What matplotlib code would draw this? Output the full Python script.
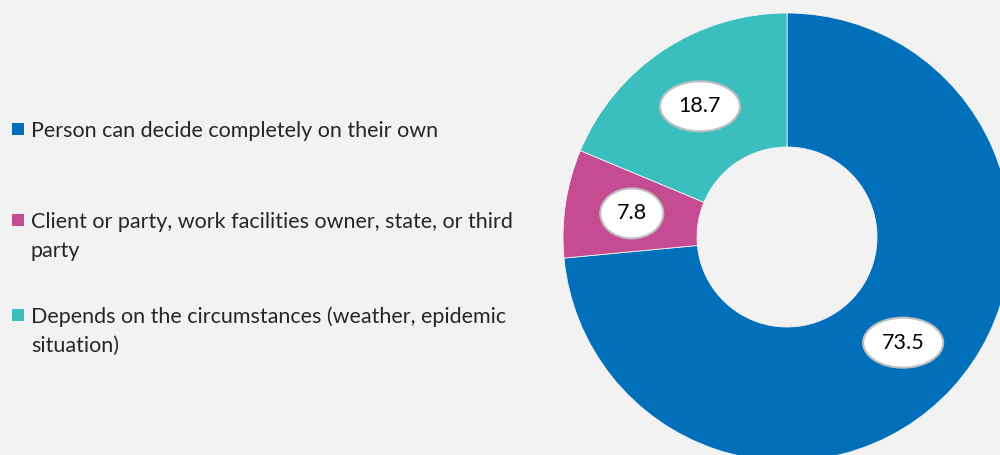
import matplotlib.pyplot as plt
import numpy as np
from matplotlib.patches import Ellipse, Rectangle

plt.rcParams['font.family'] = ['Lato', 'DejaVu Sans']

#data
categories = ['Person can decide completely on their own',
              'Client or party, work facilities owner, state, or third\nparty',
              'Depends on the circumstances (weather, epidemic\nsituation)']
values = [73.5, 7.8, 18.7]
colors = ['#016FB9', '#C54C93', '#3BBFBE']
bg = '#F2F2F2'

W, H = 1000, 455
fig = plt.figure(figsize=(W/100, H/100), dpi=100, facecolor=bg)
ax = fig.add_axes([0, 0, 1, 1])
ax.set_facecolor(bg)

cx, cy = 787, H - 237
r_out, r_in = 224, 90
wedges, _ = ax.pie(values, colors=colors, startangle=90, counterclock=False,
                   radius=r_out, center=(cx, cy),
                   wedgeprops=dict(width=r_out - r_in, linewidth=0.6, edgecolor=bg))
ax.set_xlim(0, W)
ax.set_ylim(0, H)
ax.set_aspect('equal')
ax.axis('off')

#value labels in white ellipses
r_mid = (r_out + r_in) / 2
for w, v in zip(wedges, values):
    ang = np.deg2rad((w.theta1 + w.theta2) / 2)
    x = cx + r_mid * np.cos(ang)
    y = cy + r_mid * np.sin(ang)
    txt = '%.1f' % v
    ew = 80 if len(txt) > 3 else 63
    ax.add_patch(Ellipse((x, y), ew, 50, facecolor='white', edgecolor='#BFBFBF',
                         linewidth=1.5, zorder=3))
    ax.text(x, y, txt, ha='center', va='center', fontsize=15.5, color='black', zorder=4)

#legend (drawn line by line)
leg_y = [129, 220, 315]
for lab, c, y in zip(categories, colors, leg_y):
    ax.add_patch(Rectangle((12, H - y - 6), 12, 12, facecolor=c, edgecolor='none'))
    for i, line in enumerate(lab.split('\n')):
        ax.text(31, H - y - 29 * i, line, ha='left', va='center_baseline',
                fontsize=15.5, color='#262626')

fig.savefig('out.png', dpi=100, facecolor=bg)
